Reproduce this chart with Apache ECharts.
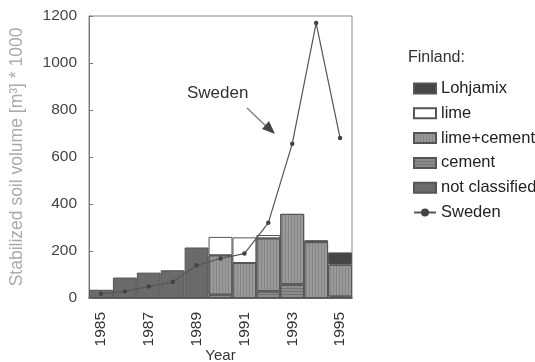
<!DOCTYPE html>
<html>
<head>
<meta charset="utf-8">
<script src="https://cdn.jsdelivr.net/npm/echarts@6/dist/echarts.min.js"></script>
<style>html,body{margin:0;padding:0;background:#fff}#c{width:535px;height:362px}</style>
</head>
<body>
<div id="c"></div>
<script>
var years = ['1985','1986','1987','1988','1989','1990','1991','1992','1993','1994','1995'];
var notClassified = [35, 87, 108, 118, 215, null, null, null, null, null, null];
var cement        = [null, null, null, null, null, 14, null, 28, 58, null, 6];
var limeCement    = [null, null, null, null, null, 168, 149, 226, 300, 238, 136];
var lime          = [null, null, null, null, null, 78, 109, 14, null, null, null];
var lohjamix      = [null, null, null, null, null, null, null, null, null, 8, 52];
var sweden        = [18, 28, 49, 68, 139, 168, 189, 320, 656, 1170, 681];
var yTicks = [0, 200, 400, 600, 800, 1000, 1200];

var FONT = '"Liberation Sans", Arial, Helvetica, sans-serif';
var chart = echarts.init(document.getElementById('c'), null, {renderer: 'canvas'});
var border = {borderColor: '#555', borderWidth: 1};
function bar(name, data, color, decal) {
  var s = {
    name: name, type: 'bar', stack: 'fin', data: data,
    barCategoryGap: 0, barGap: 0,
    itemStyle: Object.assign({color: color}, border),
    emphasis: {disabled: true}
  };
  if (decal) s.itemStyle.decal = decal;
  return s;
}
chart.setOption({
  animation: false,
  textStyle: {fontFamily: FONT},
  grid: {left: 89, right: 183, top: 16, bottom: 64, outerBoundsMode: 'none', containLabel: false,
         show: true, borderColor: '#888', borderWidth: 1, backgroundColor: 'transparent'},
  xAxis: {
    type: 'category', data: years, boundaryGap: true,
    axisLine: {lineStyle: {color: '#444', width: 1.5}},
    axisTick: {show: false},
    axisLabel: {rotate: 90, interval: 1, color: '#333', fontSize: 15.5, fontFamily: FONT, margin: 14, padding: [0, 0, 7, 0]},
    name: 'Year', nameLocation: 'middle', nameGap: 50, nameMoveOverlap: false,
    nameTextStyle: {color: '#333', fontSize: 15, fontFamily: FONT}
  },
  yAxis: {
    type: 'value', min: yTicks[0], max: yTicks[yTicks.length - 1], interval: 200,
    axisLine: {show: true, lineStyle: {color: '#777'}},
    axisTick: {show: true, inside: true, length: 4, lineStyle: {color: '#777'}},
    splitLine: {show: false},
    axisLabel: {color: '#444', fontSize: 15.5, fontFamily: FONT, margin: 12, formatter: function (v) { return String(v); }},
    name: 'Stabilized soil volume [m\u00b3] * 1000', nameLocation: 'middle', nameGap: 63, nameRotate: 90, nameMoveOverlap: false,
    nameTextStyle: {color: '#aaa', fontSize: 17.5, fontFamily: FONT}
  },
  legend: {
    orient: 'vertical', left: 408, top: 75, itemGap: 7.8, itemWidth: 22, itemHeight: 10,
    textStyle: {color: '#222', fontSize: 16.5, fontFamily: FONT},
    data: [
      {name: 'Lohjamix', icon: 'rect'},
      {name: 'lime', icon: 'rect'},
      {name: 'lime+cement', icon: 'rect'},
      {name: 'cement', icon: 'rect'},
      {name: 'not classified', icon: 'rect'},
      {name: 'Sweden'}
    ]
  },
  graphic: [
    {type: 'text', left: 408, top: 50, style: {text: 'Finland:', fill: '#333', font: '16px ' + FONT}},
    {type: 'text', left: 187, top: 85, style: {text: 'Sweden', fill: '#333', font: '17px ' + FONT}},
    {type: 'line', shape: {x1: 247, y1: 108, x2: 268, y2: 128}, style: {stroke: '#777', lineWidth: 1.2}},
    {type: 'polygon', shape: {points: [[275, 134], [262, 129], [269, 121]]}, style: {fill: '#444'}}
  ],
  series: [
    bar('not classified', notClassified, '#6a6a6a'),
    bar('cement', cement, '#8c8c8c', {symbol: 'rect', symbolSize: 1, dashArrayX: [10, 0], dashArrayY: [1, 2], color: 'rgba(60,60,60,0.3)'}),
    bar('lime+cement', limeCement, '#999999', {symbol: 'rect', symbolSize: 1, dashArrayX: [1, 2], dashArrayY: [10, 0], color: 'rgba(70,70,70,0.22)'}),
    bar('lime', lime, '#ffffff'),
    bar('Lohjamix', lohjamix, '#454545'),
    {
      name: 'Sweden', type: 'line', data: sweden, z: 5,
      symbol: 'circle', symbolSize: 4.5,
      lineStyle: {color: '#555', width: 1.2},
      itemStyle: {color: '#444'},
      emphasis: {disabled: true}
    }
  ]
});
</script>
</body>
</html>
